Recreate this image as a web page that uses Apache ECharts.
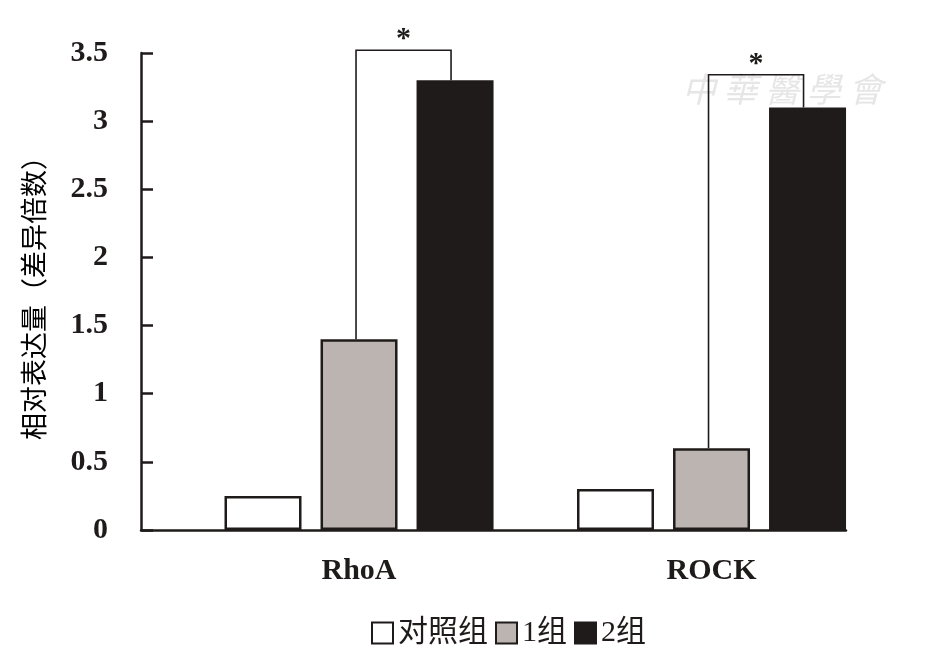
<!DOCTYPE html>
<html>
<head>
<meta charset="utf-8">
<script src="https://cdn.jsdelivr.net/npm/echarts@6/dist/echarts.min.js"></script>
<style>
html,body{margin:0;padding:0;background:#fff;}
#chart{width:945px;height:652px;}
</style>
</head>
<body>
<div id="chart"></div>
<script>
var categories = ['RhoA', 'ROCK'];
var seriesNames = ['对照组', '1组', '2组'];
var controlValues = [0.25, 0.30];
var group1Values = [1.40, 0.60];
var group2Values = [3.30, 3.10];
var yTickLabels = ['0', '0.5', '1', '1.5', '2', '2.5', '3', '3.5'];
// [category index, left bar top, bracket top, right bar top]
var brackets = [[0, 1.40, 3.52, 3.30], [1, 0.60, 3.34, 3.10]];

var BAR_W = 77;
var GAP_RATIO = 0.247;
var SPACER_W = 67;   // empty slot, pushes each group to the right of its band
var GROUP_SHIFT = SPACER_W * (1 + GAP_RATIO) / 2;
var INK = '#1f1b1a';
var serif = '"Liberation Serif", "Times New Roman", serif';
var cjk = '"Liberation Serif", "Noto Sans CJK SC", sans-serif';

var myChart = echarts.init(document.getElementById('chart'));

function barSeries(name, data, fill) {
    return {
        name: name,
        type: 'bar',
        barWidth: BAR_W,
        barGap: (GAP_RATIO * 100) + '%',
        data: data,
        itemStyle: {color: fill, borderColor: INK, borderWidth: 2.5},
        emphasis: {disabled: true}
    };
}

var option = {
    animation: false,
    grid: {left: 141, right: 99, top: 53, bottom: 122},
    legend: {
        data: seriesNames,
        top: 613,
        left: 366,
        itemWidth: 21,
        itemHeight: 21,
        itemGap: 7,
        icon: 'rect',
        textStyle: {fontFamily: cjk, fontSize: 30, color: INK}
    },
    xAxis: {
        type: 'category',
        data: categories,
        axisLine: {lineStyle: {color: INK, width: 2.5}},
        axisTick: {show: false},
        axisLabel: {
            fontFamily: serif,
            fontWeight: 'bold',
            fontSize: 30,
            color: INK,
            margin: 26,
            padding: [0, 0, 0, GROUP_SHIFT * 2]
        }
    },
    yAxis: {
        type: 'value',
        min: 0,
        max: 3.5,
        interval: 0.5,
        name: '相对表达量（差异倍数）',
        nameLocation: 'middle',
        nameGap: 94,
        nameTextStyle: {fontFamily: '"Noto Sans CJK SC", sans-serif', fontSize: 27, color: '#000'},
        axisLine: {show: true, lineStyle: {color: INK, width: 2.5}},
        axisTick: {show: true, inside: true, length: 12, lineStyle: {color: INK, width: 2.5}},
        splitLine: {show: false},
        axisLabel: {
            fontFamily: serif,
            fontWeight: 'bold',
            fontSize: 30,
            color: INK,
            margin: 33,
            formatter: function (v) { return yTickLabels[Math.round(v / 0.5)]; }
        }
    },
    graphic: [{
        type: 'text',
        left: 682,
        top: 72,
        silent: true,
        style: {text: '中 華 醫 學 會', font: 'italic 34px "Noto Sans CJK TC"', fill: '#e6e6e6'}
    }],
    series: [
        {
            name: 'spacer',
            type: 'bar',
            barWidth: SPACER_W,
            barGap: (GAP_RATIO * 100) + '%',
            data: categories.map(function () { return null; }),
            silent: true,
            itemStyle: {color: 'transparent'}
        },
        barSeries(seriesNames[0], controlValues, '#ffffff'),
        barSeries(seriesNames[1], group1Values, '#bbb4b1'),
        barSeries(seriesNames[2], group2Values, INK),
        {
            type: 'custom',
            silent: true,
            data: brackets,
            renderItem: function (params, api) {
                var ci = api.value(0);
                var top = api.coord([ci, api.value(2)]);
                var x1 = top[0] + GROUP_SHIFT - 3;
                var x2 = x1 + BAR_W * (1 + GAP_RATIO) - 1;
                var yL = api.coord([ci, api.value(1)])[1];
                var yR = api.coord([ci, api.value(3)])[1];
                return {
                    type: 'group',
                    children: [{
                        type: 'polyline',
                        shape: {points: [[x1, yL], [x1, top[1]], [x2, top[1]], [x2, yR]]},
                        style: {stroke: INK, lineWidth: 1.6, fill: null}
                    }, {
                        type: 'text',
                        style: {
                            text: '*',
                            x: (x1 + x2) / 2,
                            y: top[1] - 11,
                            align: 'center',
                            verticalAlign: 'middle',
                            font: 'bold 30px ' + serif,
                            fill: INK
                        }
                    }]
                };
            }
        }
    ]
};
myChart.setOption(option);
</script>
</body>
</html>
